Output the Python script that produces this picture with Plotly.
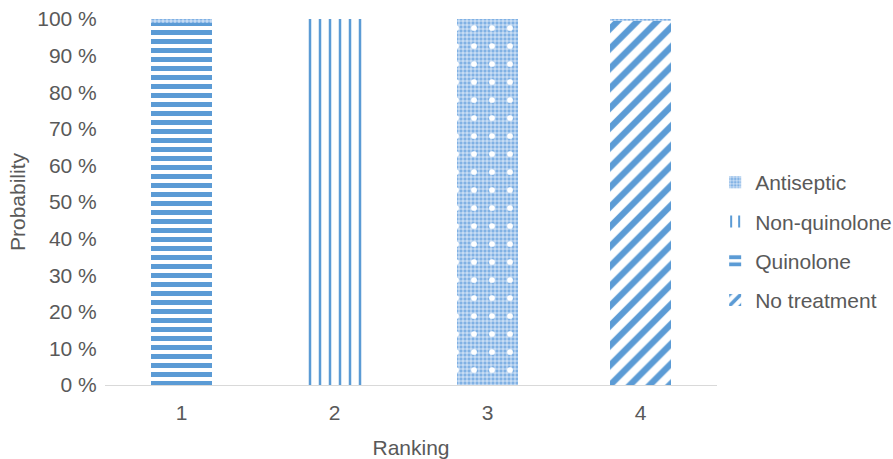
import plotly.graph_objects as go

rankings = ["1", "2", "3", "4"]
no_treatment = [0, 0, 0, 99.5]
quinolone = [99, 0, 0, 0]
non_quinolone = [0, 100, 0, 0]
antiseptic = [1, 0, 100, 0.5]

BLUE = "#5b9bd5"
TEXT = "#595959"

fig = go.Figure()

series = [
    ("No treatment", no_treatment, 4,
     dict(shape="/", fgcolor=BLUE, bgcolor="white", size=14, solidity=0.45, fgopacity=1, fillmode="overlay")),
    ("Quinolone", quinolone, 3,
     dict(shape="-", fgcolor=BLUE, bgcolor="white", size=9, solidity=0.55, fgopacity=1, fillmode="overlay")),
    ("Non-quinolone", non_quinolone, 2,
     dict(shape="|", fgcolor=BLUE, bgcolor="white", size=10, solidity=0.25, fgopacity=1, fillmode="overlay")),
    ("Antiseptic", antiseptic, 1,
     dict(shape="+", fgcolor="white", bgcolor="#80b1e4", size=4, solidity=0.3, fgopacity=1, fillmode="overlay")),
]

for name, vals, rank, pat in series:
    fig.add_trace(go.Bar(
        x=rankings, y=vals, name=name, legendrank=rank, legendgroup=name,
        marker=dict(color="white", pattern=pat, line=dict(width=0)),
    ))

# white dot layer over the antiseptic segments, on an overlaid axis
antiseptic_base = [a + b + c for a, b, c in zip(no_treatment, quinolone, non_quinolone)]
fig.add_trace(go.Bar(
    x=rankings, y=antiseptic, base=antiseptic_base, showlegend=False, hoverinfo="skip",
    xaxis="x2",
    marker=dict(color="rgba(0,0,0,0)", line=dict(width=0),
                pattern=dict(shape=".", fgcolor="white", bgcolor="rgba(0,0,0,0)",
                             size=18, solidity=0.08, fgopacity=1, fillmode="overlay")),
))

fig.update_layout(
    width=893, height=459,
    barmode="stack", bargap=0.6,
    plot_bgcolor="white", paper_bgcolor="white",
    margin=dict(l=105, r=176, t=19, b=74, autoexpand=False),
    font=dict(family="Liberation Sans, Arial, sans-serif", size=21, color=TEXT),
    legend=dict(x=0.997, y=0.392, xanchor="left", yanchor="middle",
                traceorder="grouped", itemwidth=30, tracegroupgap=9,
                font=dict(size=21, color=TEXT)),
    xaxis=dict(title=dict(text="Ranking", standoff=18, font=dict(size=21)),
               showline=True, linecolor="#d9d9d9",
               linewidth=1, ticks="outside", ticklen=9, tickcolor="white", showgrid=False,
               automargin=False),
    xaxis2=dict(overlaying="x", matches="x", visible=False),
    yaxis=dict(title=dict(text="Probability", standoff=5, font=dict(size=21)),
               range=[0, 100], dtick=10,
               ticksuffix=" %", showgrid=False, zeroline=False,
               ticks="outside", ticklen=3, tickcolor="white", automargin=False),
)

fig.write_html("out.html")
